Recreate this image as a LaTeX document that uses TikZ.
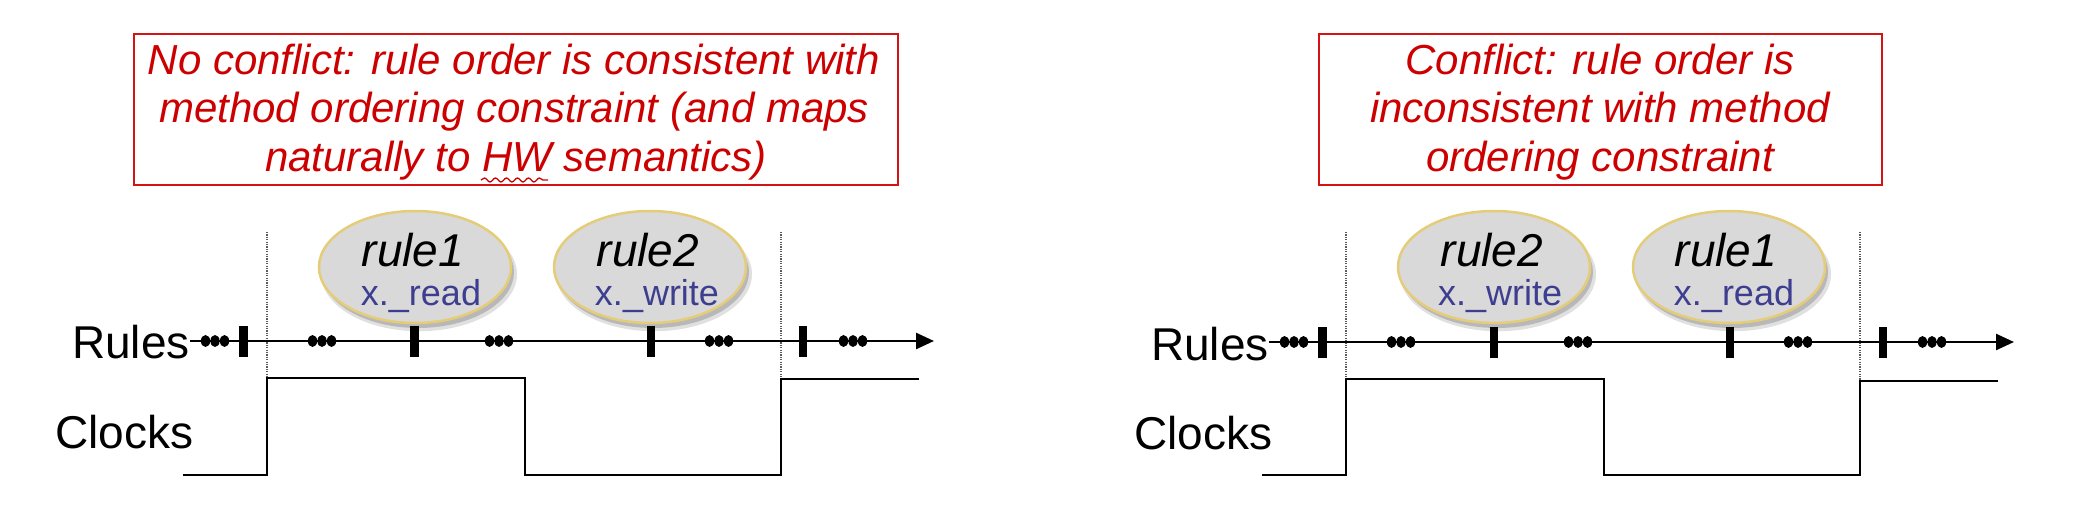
\documentclass[tikz,border=0pt]{standalone}
\usepackage{fontspec}
\setmainfont{Liberation Sans}
\usetikzlibrary{shapes.geometric,arrows.meta,shadows,decorations.pathmorphing}
\definecolor{boxred}{RGB}{204,0,0}
\definecolor{boxline}{RGB}{212,20,20}
\definecolor{ellfill}{RGB}{217,217,217}
\definecolor{ellborder}{RGB}{228,204,120}
\definecolor{methblue}{RGB}{62,62,145}
\definecolor{dotgray}{RGB}{90,90,90}
\begin{document}
\begin{tikzpicture}[x=1pt,y=-1pt,
  notebox/.style={draw=boxline,line width=2.5pt,rectangle,minimum height=151pt,inner sep=0pt},
  notetext/.style={anchor=base,inner sep=0pt,text=boxred,font=\fontsize{42}{48}\selectfont\itshape},
  ell/.style={ellipse,draw=ellborder,line width=2.5pt,fill=ellfill,minimum width=192pt,minimum height=112pt,inner sep=0pt,
    drop shadow={shadow xshift=4pt,shadow yshift=-7pt,opacity=0.12,fill=black,shadow scale=1.02},
    drop shadow={shadow xshift=3pt,shadow yshift=-5pt,opacity=0.18,fill=black}},
  rname/.style={anchor=base,inner sep=0pt,font=\fontsize{46}{50}\selectfont\itshape},
  mname/.style={anchor=base,inner sep=0pt,text=methblue,font=\fontsize{36}{40}\selectfont},
  lbl/.style={inner sep=0pt,font=\fontsize{46}{50}\selectfont},
  rulesline/.style={line width=2.5pt,-{Triangle[length=18pt,width=16pt]}},
  clk/.style={line width=2.5pt,line join=miter},
  vdot/.style={dotgray,line width=1.6pt,dash pattern=on 1.2pt off 1.2pt},
  wavy/.style={boxred,line width=1.3pt,decorate,decoration={snake,amplitude=2pt,segment length=11pt}}
]
\useasboundingbox (0,0) rectangle (2082,510);

% ---------- left panel ----------
\node[notebox,minimum width=764pt] (noteL) at (516,109.5) {};
\node[notetext] (noteL1) at (514,75) {No conflict: rule order is consistent with};
\node[notetext] (noteL2) at (514,123) {method ordering constraint (and maps};
\node[notetext] (noteL3) at (516,172) {naturally to HW semantics)};
\draw[wavy] (481,180) -- (548,180);

\node[ell] (e1L) at (415,267) {};
\node[ell] (e2L) at (650,267) {};
\node[rname] (r1L) at (413,267) {rule1};
\node[mname] (m1L) at (421,306) {x.\_read};
\node[rname] (r2L) at (648,267) {rule2};
\node[mname] (m2L) at (657,306) {x.\_write};

\node[lbl,anchor=base east] (rulesL) at (190,359) {Rules};
\node[lbl,anchor=base west] (clocksL) at (55,448) {Clocks};

\draw[vdot] (267,232) -- (267,378);
\draw[vdot] (781,232) -- (781,379);

\coordinate (endL) at (934,341);
\draw[rulesline] (rulesL.east |- endL) -- (endL);
\foreach \t in {243.5,414.5,651,803} \fill (\t-4.25,326) rectangle (\t+4.25,357);
\foreach \c in {215,322,499,719,853}
  \foreach \d in {-9.5,0,9.5} \fill (\c+\d,341) ellipse (4.6 and 6);

\draw[clk] (183,475) -- (267,475) -- (267,378) -- (525,378) -- (525,475) -- (781,475) -- (781,379) -- (919,379);

% ---------- right panel ----------
\node[notebox,minimum width=563pt] (noteR) at (1600.5,109.5) {};
\node[notetext] (noteR1) at (1600,75) {Conflict: rule order is};
\node[notetext] (noteR2) at (1600,123) {inconsistent with method};
\node[notetext] (noteR3) at (1600,172) {ordering constraint};

\node[ell] (e2R) at (1494,267) {};
\node[ell] (e1R) at (1729,267) {};
\node[rname] (r2R) at (1492,267) {rule2};
\node[mname] (m2R) at (1500,306) {x.\_write};
\node[rname] (r1R) at (1726,267) {rule1};
\node[mname] (m1R) at (1734,306) {x.\_read};

\node[lbl,anchor=base east] (rulesR) at (1269,360) {Rules};
\node[lbl,anchor=base west] (clocksR) at (1134,449) {Clocks};

\draw[vdot] (1346,232) -- (1346,379);
\draw[vdot] (1860,232) -- (1860,381);

\coordinate (endR) at (2014,342);
\draw[rulesline] (rulesR.east |- endR) -- (endR);
\foreach \t in {1322.5,1494,1730,1883} \fill (\t-4.25,327) rectangle (\t+4.25,358);
\foreach \c in {1294,1401,1578,1798,1932}
  \foreach \d in {-9.5,0,9.5} \fill (\c+\d,342) ellipse (4.6 and 6);

\draw[clk] (1262,475) -- (1346,475) -- (1346,379) -- (1604,379) -- (1604,475) -- (1860,475) -- (1860,381) -- (1998,381);
\end{tikzpicture}
\end{document}
